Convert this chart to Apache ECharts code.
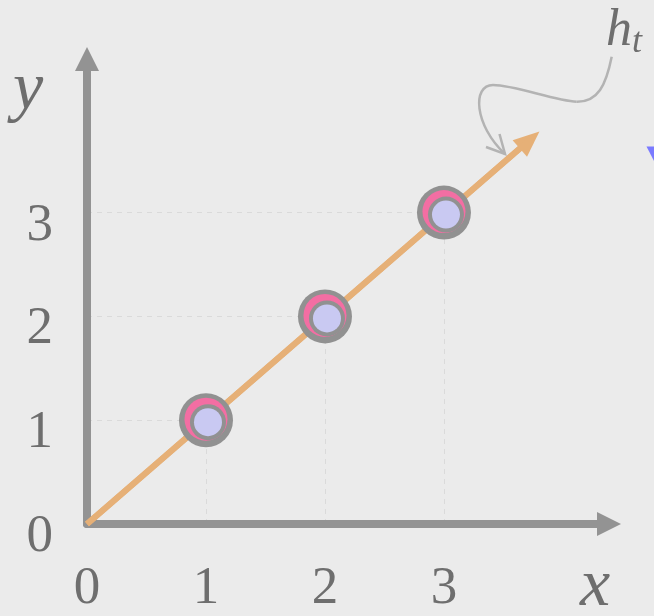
<!DOCTYPE html>
<html>
<head>
<meta charset="utf-8">
<script src="https://cdn.jsdelivr.net/npm/echarts@6/dist/echarts.min.js"></script>
<style>
html, body { margin: 0; padding: 0; background: #ebebeb; }
#main { width: 654px; height: 616px; }
</style>
</head>
<body>
<div id="main"></div>
<script>
// data
const xTicks = [0, 1, 2, 3];
const yTicks = [0, 1, 2, 3];
const pointX = [1, 2, 3];
const pointY = [1, 2, 3];
const lineStart = [0, 0];
const lineEnd = [3.72, 3.7];

const axisColor = "#939393";
const labelColor = "#6e6e6e";
const points = pointX.map((x, i) => [x, pointY[i]]);

// dashed guides from each point back to the axes
const guides = [];
points.forEach((p) => {
  guides.push([{ coord: [p[0], 0] }, { coord: p }]);
  guides.push([{ coord: [0, p[1]] }, { coord: p }]);
});

function ring(size, color, offset, z) {
  return {
    type: "scatter",
    data: points,
    symbol: "circle",
    symbolSize: size,
    symbolOffset: offset,
    itemStyle: { color: color, opacity: 1 },
    z: z,
    silent: true,
  };
}

const myChart = echarts.init(document.getElementById("main"));
const option = {
  backgroundColor: "#ebebeb",
  animation: false,
  grid: { left: 87, right: 45, top: 59, bottom: 92 },
  xAxis: {
    type: "value",
    min: 0,
    max: 4.387,
    axisLine: {
      onZero: false,
      symbol: ["none", "triangle"],
      symbolSize: [24, 24],
      lineStyle: { color: axisColor, width: 8 },
    },
    axisTick: { show: false },
    splitLine: { show: false },
    axisLabel: {
      customValues: xTicks,
      color: labelColor,
      fontFamily: "Liberation Serif",
      fontSize: 53,
      lineHeight: 50,
      margin: 40,
    },
  },
  yAxis: {
    type: "value",
    min: 0,
    max: 4.48,
    axisLine: {
      show: true,
      onZero: false,
      symbol: ["none", "triangle"],
      symbolSize: [24, 24],
      lineStyle: { color: axisColor, width: 8 },
    },
    axisTick: { show: false },
    splitLine: { show: false },
    axisLabel: {
      customValues: yTicks,
      color: labelColor,
      fontFamily: "Liberation Serif",
      fontSize: 53,
      verticalAlign: "top",
      lineHeight: 26,
      margin: 34,
    },
  },
  series: [
    {
      type: "line",
      data: [lineStart, lineEnd],
      showSymbol: false,
      lineStyle: { color: "#e6b077", width: 6 },
      z: 1,
      silent: true,
      markLine: {
        silent: true,
        z: 1,
        symbol: ["none", "triangle"],
        symbolSize: [22, 26],
        label: { show: false },
        lineStyle: { color: "#e6b077", width: 6, type: "solid" },
        data: [[{ coord: lineStart }, { coord: lineEnd }]],
      },
    },
    {
      type: "scatter",
      data: [],
      silent: true,
      z: 0,
      markLine: {
        silent: true,
        z: 0,
        symbol: ["none", "none"],
        label: { show: false },
        lineStyle: { color: "#dadada", width: 1, type: [5, 5] },
        data: guides,
      },
    },
    ring(54, "#919191", [0, 0], 3),
    ring(43, "#f36ea3", [0, -1], 4),
    ring(36, "#919191", [2, 2], 5),
    ring(28, "#c9c9f2", [2, 2], 6),
  ],
  graphic: [
    {
      type: "text",
      left: 13,
      top: 57,
      style: {
        text: "y",
        fill: labelColor,
        font: "italic 68px 'Liberation Serif'",
      },
    },
    {
      type: "text",
      left: 580,
      top: 553,
      style: {
        text: "x",
        fill: labelColor,
        font: "italic 68px 'Liberation Serif'",
      },
    },
    {
      type: "text",
      left: 606,
      top: 5,
      style: {
        text: "{h|h}{t|t}",
        fill: labelColor,
        rich: {
          h: { fontFamily: "Liberation Serif", fontStyle: "italic", fontSize: 52, fill: labelColor },
          t: { fontFamily: "Liberation Serif", fontStyle: "italic", fontSize: 36, fill: labelColor, padding: [24, 0, 0, 0] },
        },
      },
    },
    {
      type: "bezierCurve",
      shape: { x1: 611.7, y1: 56.7, cpx1: 606, cpy1: 85, cpx2: 598, cpy2: 102, x2: 576.7, y2: 101.7 },
      style: { stroke: "#b3b3b3", lineWidth: 2.5, fill: null },
    },
    {
      type: "bezierCurve",
      shape: { x1: 576.7, y1: 101.7, cpx1: 555, cpy1: 101, cpx2: 515, cpy2: 85, x2: 493, y2: 85 },
      style: { stroke: "#b3b3b3", lineWidth: 2.5, fill: null },
    },
    {
      type: "bezierCurve",
      shape: { x1: 493, y1: 85, cpx1: 472, cpy1: 85, cpx2: 474, cpy2: 125, x2: 505, y2: 154 },
      style: { stroke: "#b3b3b3", lineWidth: 2.5, fill: null },
    },
    {
      type: "polyline",
      shape: { points: [[486, 147], [505, 154], [499.5, 134]] },
      style: { stroke: "#b3b3b3", lineWidth: 2.5, fill: null },
    },
    {
      type: "polygon",
      shape: { points: [[646.5, 146.5], [664, 146.5], [655, 163]] },
      style: { fill: "#7a7aff" },
    },
  ],
};
myChart.setOption(option);
</script>
</body>
</html>
